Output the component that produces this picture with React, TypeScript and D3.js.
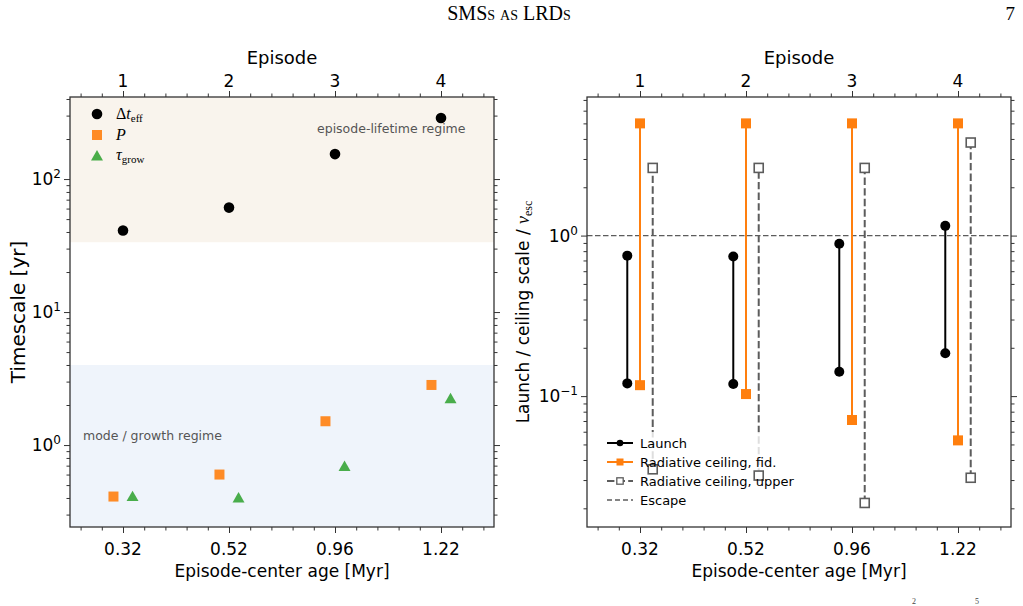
import React, { useEffect, useRef } from "react";
import * as d3 from "d3";

// episode index labels (top axis) and episode-centre ages (bottom axis)
const episodes = ["1", "2", "3", "4"];
const ageLabels = ["0.32", "0.52", "0.96", "1.22"];

// left panel: timescales in yr
const dtEff = [41, 61, 154, 288];
const periodP = [0.41, 0.6, 1.51, 2.83];
const tauGrow = [0.41, 0.4, 0.69, 2.23];
const lifetimeFloor = 33.5;
const modeCeiling = 4.0;

// right panel: launch range and radiative ceilings, in units of v_esc
const launchLo = [0.12, 0.119, 0.142, 0.185];
const launchHi = [0.75, 0.74, 0.89, 1.15];
const fidLo = [0.117, 0.103, 0.071, 0.053];
const fidHi = [5.0, 5.0, 5.0, 5.0];
const upperLo = [0.035, 0.032, 0.0216, 0.031];
const upperHi = [2.64, 2.64, 2.64, 3.8];
const escapeLevel = 1;

const W = 1023;
const H = 606;
const PANEL_W = 424;
const TOP = 97;
const BOTTOM = 527;
const LEFT_X = 70;
const RIGHT_X = 587;

const AXIS = "#333333";
const ORANGE = "#ff7f0e";
const GREEN = "#2ca02c";
const GREY = "#5c5c5c";
const SANS = "'DejaVu Sans', sans-serif";
const SERIF = "'Liberation Serif', 'DejaVu Serif', serif";

type Sel = d3.Selection<SVGGElement, unknown, null, undefined>;

function powLabel(g: Sel, x: number, y: number, exp: string) {
  const t = g
    .append("text")
    .attr("x", x)
    .attr("y", y + 6)
    .attr("text-anchor", "end")
    .attr("font-family", SANS)
    .attr("font-size", 17)
    .attr("fill", "#000");
  t.append("tspan").text("10");
  t.append("tspan").attr("dy", -7).attr("font-size", 12).text(exp);
}

function addAxes(
  g: Sel,
  x: d3.ScaleLinear<number, number>,
  y: d3.ScaleLogarithmic<number, number>,
  yMajor: number[],
  yExp: string[]
) {
  const xMajor = d3.range(0, 4);
  const xMinor = d3
    .range(-4, 35, 2)
    .map((v) => v / 10)
    .filter((v) => Math.abs(v - Math.round(v)) > 1e-6);
  const [ylo, yhi] = y.domain();
  const yMinor: number[] = [];
  for (let e = Math.floor(Math.log10(ylo)); e <= Math.ceil(Math.log10(yhi)); e++) {
    for (let k = 2; k <= 9; k++) {
      const v = k * Math.pow(10, e);
      if (v >= ylo && v <= yhi) yMinor.push(v);
    }
  }
  const [x0, x1] = x.range();
  const [yb, yt] = y.range();

  const put = (axis: d3.Axis<any>, tr: string) => {
    const s = g.append("g").attr("transform", tr).call(axis);
    s.select(".domain").remove();
    s.selectAll("text").remove();
    s.selectAll("line").attr("stroke", AXIS).attr("stroke-width", 1);
  };
  const sets: [number[], number][] = [
    [xMajor, 6],
    [xMinor, 3.5],
  ];
  sets.forEach(([vals, len]) => {
    put(d3.axisBottom(x).tickValues(vals).tickSize(len), `translate(0,${yb})`);
    put(d3.axisTop(x).tickValues(vals).tickSize(len), `translate(0,${yt})`);
  });
  const ysets: [number[], number][] = [
    [yMajor, 6],
    [yMinor, 3.5],
  ];
  ysets.forEach(([vals, len]) => {
    put(d3.axisLeft(y).tickValues(vals).tickSize(len), `translate(${x0},0)`);
    put(d3.axisRight(y).tickValues(vals).tickSize(len), `translate(${x1},0)`);
  });

  g.append("rect")
    .attr("x", x0)
    .attr("y", yt)
    .attr("width", x1 - x0)
    .attr("height", yb - yt)
    .attr("fill", "none")
    .attr("stroke", AXIS)
    .attr("stroke-width", 1.3);

  const lbl = (tx: number, ty: number, s: string, size = 17) =>
    g
      .append("text")
      .attr("x", tx)
      .attr("y", ty)
      .attr("text-anchor", "middle")
      .attr("font-family", SANS)
      .attr("font-size", size)
      .attr("fill", "#000")
      .text(s);

  ageLabels.forEach((s, i) => lbl(x(i), yb + 28, s));
  episodes.forEach((s, i) => lbl(x(i), yt - 10, s));
  lbl((x0 + x1) / 2, yt - 33, "Episode", 18);
  lbl((x0 + x1) / 2, yb + 50, "Episode-center age [Myr]", 17);
  yMajor.forEach((v, i) => powLabel(g, x0 - 9, y(v), yExp[i]));
}

function drawLeft(root: Sel) {
  const g = root.append("g");
  const x = d3.scaleLinear().domain([-0.5, 3.5]).range([LEFT_X, LEFT_X + PANEL_W]);
  const y = d3.scaleLog().domain([0.242, 414]).range([BOTTOM, TOP]);
  const [ylo, yhi] = y.domain();

  g.append("rect")
    .attr("x", LEFT_X)
    .attr("y", y(yhi))
    .attr("width", PANEL_W)
    .attr("height", y(lifetimeFloor) - y(yhi))
    .attr("fill", "#f9f4ed");
  g.append("rect")
    .attr("x", LEFT_X)
    .attr("y", y(modeCeiling))
    .attr("width", PANEL_W)
    .attr("height", y(ylo) - y(modeCeiling))
    .attr("fill", "#eff4fb");

  g.append("text")
    .attr("x", 317)
    .attr("y", 133)
    .attr("font-family", SANS)
    .attr("font-size", 12.5)
    .attr("fill", "#555")
    .text("episode-lifetime regime");
  g.append("text")
    .attr("x", 83)
    .attr("y", 440)
    .attr("font-family", SANS)
    .attr("font-size", 12.5)
    .attr("fill", "#555")
    .text("mode / growth regime");

  const dx = 0.09;
  g.selectAll(".dt")
    .data(dtEff)
    .join("circle")
    .attr("cx", (_, i) => x(i))
    .attr("cy", (d) => y(d))
    .attr("r", 5.3)
    .attr("fill", "#000");
  g.selectAll(".pp")
    .data(periodP)
    .join("rect")
    .attr("x", (_, i) => x(i - dx) - 5)
    .attr("y", (d) => y(d) - 5)
    .attr("width", 10)
    .attr("height", 10)
    .attr("fill", ORANGE)
    .attr("opacity", 0.9);
  const tri = d3.symbol().type(d3.symbolTriangle).size(62);
  g.selectAll(".tg")
    .data(tauGrow)
    .join("path")
    .attr("d", tri)
    .attr("transform", (d, i) => `translate(${x(i + dx)},${y(d) + 1})`)
    .attr("fill", GREEN)
    .attr("opacity", 0.85);

  // legend
  const rows = [114, 135, 156];
  g.append("circle").attr("cx", 97).attr("cy", rows[0]).attr("r", 5.3).attr("fill", "#000");
  g.append("rect")
    .attr("x", 92)
    .attr("y", rows[1] - 5)
    .attr("width", 10)
    .attr("height", 10)
    .attr("fill", ORANGE)
    .attr("opacity", 0.9);
  g.append("path")
    .attr("d", tri)
    .attr("transform", `translate(97,${rows[2] + 1})`)
    .attr("fill", GREEN)
    .attr("opacity", 0.85);

  const t1 = g.append("text").attr("x", 116).attr("y", rows[0] + 5).attr("font-family", SERIF).attr("font-size", 16);
  t1.append("tspan").text("Δ");
  t1.append("tspan").attr("font-style", "italic").text("t");
  t1.append("tspan").attr("dy", 3).attr("font-size", 11).text("eff");
  g.append("text")
    .attr("x", 116)
    .attr("y", rows[1] + 5)
    .attr("font-family", SERIF)
    .attr("font-size", 16)
    .attr("font-style", "italic")
    .text("P");
  const t3 = g.append("text").attr("x", 116).attr("y", rows[2] + 4).attr("font-family", SERIF).attr("font-size", 16);
  t3.append("tspan").attr("font-style", "italic").text("τ");
  t3.append("tspan").attr("dy", 3).attr("font-size", 11).text("grow");

  addAxes(g, x, y, [1, 10, 100], ["0", "1", "2"]);

  g.append("text")
    .attr("transform", `translate(25,${(TOP + BOTTOM) / 2}) rotate(-90)`)
    .attr("text-anchor", "middle")
    .attr("font-family", SANS)
    .attr("font-size", 20)
    .text("Timescale [yr]");
}

function drawRight(root: Sel) {
  const g = root.append("g");
  const x = d3.scaleLinear().domain([-0.5, 3.5]).range([RIGHT_X, RIGHT_X + PANEL_W]);
  const y = d3.scaleLog().domain([0.0153, 7.3]).range([BOTTOM, TOP]);
  const dx = 0.12;

  g.append("line")
    .attr("x1", RIGHT_X)
    .attr("x2", RIGHT_X + PANEL_W)
    .attr("y1", y(escapeLevel))
    .attr("y2", y(escapeLevel))
    .attr("stroke", GREY)
    .attr("stroke-width", 1.4)
    .attr("stroke-dasharray", "5.5,2.5");

  const vline = (lo: number[], hi: number[], off: number, color: string, dash: string | null) =>
    g
      .selectAll(null)
      .data(lo)
      .join("line")
      .attr("x1", (_, i) => x(i + off))
      .attr("x2", (_, i) => x(i + off))
      .attr("y1", (d) => y(d))
      .attr("y2", (_, i) => y(hi[i]))
      .attr("stroke", color)
      .attr("stroke-width", 2)
      .attr("stroke-dasharray", dash);

  vline(launchLo, launchHi, -dx, "#000", null);
  vline(fidLo, fidHi, 0, ORANGE, null);
  vline(upperLo, upperHi, dx, GREY, "7.4,3.2");

  [launchLo, launchHi].forEach((arr) =>
    g
      .selectAll(null)
      .data(arr)
      .join("circle")
      .attr("cx", (_, i) => x(i - dx))
      .attr("cy", (d) => y(d))
      .attr("r", 5)
      .attr("fill", "#000")
  );
  [fidLo, fidHi].forEach((arr) =>
    g
      .selectAll(null)
      .data(arr)
      .join("rect")
      .attr("x", (_, i) => x(i) - 5)
      .attr("y", (d) => y(d) - 5)
      .attr("width", 10)
      .attr("height", 10)
      .attr("fill", ORANGE)
  );

  // legend sits above the upper-ceiling lines but below their markers
  const lx = 600;
  const rows = [443, 462, 481, 500];
  g.append("rect")
    .attr("x", lx)
    .attr("y", 432)
    .attr("width", 198)
    .attr("height", 79)
    .attr("rx", 3)
    .attr("fill", "#fff")
    .attr("opacity", 0.8);

  [upperLo, upperHi].forEach((arr) =>
    g
      .selectAll(null)
      .data(arr)
      .join("rect")
      .attr("x", (_, i) => x(i + dx) - 4.5)
      .attr("y", (d) => y(d) - 4.5)
      .attr("width", 9)
      .attr("height", 9)
      .attr("fill", "#fff")
      .attr("stroke", GREY)
      .attr("stroke-width", 1.6)
  );

  const hx0 = 607;
  const hx1 = 633;
  const hm = (hx0 + hx1) / 2;
  const hline = (yy: number, color: string, dash: string | null, w = 2) =>
    g
      .append("line")
      .attr("x1", hx0)
      .attr("x2", hx1)
      .attr("y1", yy)
      .attr("y2", yy)
      .attr("stroke", color)
      .attr("stroke-width", w)
      .attr("stroke-dasharray", dash);
  hline(rows[0], "#000", null);
  g.append("circle").attr("cx", hm).attr("cy", rows[0]).attr("r", 3.3).attr("fill", "#000");
  hline(rows[1], ORANGE, null);
  g.append("rect").attr("x", hm - 3.5).attr("y", rows[1] - 3.5).attr("width", 7).attr("height", 7).attr("fill", ORANGE);
  hline(rows[2], GREY, "7.4,3.2");
  g.append("rect")
    .attr("x", hm - 3.2)
    .attr("y", rows[2] - 3.2)
    .attr("width", 6.4)
    .attr("height", 6.4)
    .attr("fill", "#fff")
    .attr("stroke", GREY)
    .attr("stroke-width", 1.3);
  hline(rows[3], GREY, "5,3", 1.4);

  ["Launch", "Radiative ceiling, fid.", "Radiative ceiling, upper", "Escape"].forEach((s, i) =>
    g
      .append("text")
      .attr("x", 640)
      .attr("y", rows[i] + 4.5)
      .attr("font-family", SANS)
      .attr("font-size", 13)
      .attr("fill", "#000")
      .text(s)
  );

  addAxes(g, x, y, [0.1, 1], ["−1", "0"]);

  const t = g
    .append("text")
    .attr("transform", `translate(529,${(TOP + BOTTOM) / 2}) rotate(-90)`)
    .attr("text-anchor", "middle")
    .attr("font-family", SANS)
    .attr("font-size", 17);
  t.append("tspan").text("Launch / ceiling scale / ");
  t.append("tspan").attr("font-family", SERIF).attr("font-style", "italic").attr("font-size", 18).text("v");
  t.append("tspan").attr("font-family", SERIF).attr("font-size", 12).attr("dy", 3).text("esc");
}

export default function App() {
  const svgRef = useRef<SVGSVGElement>(null);

  useEffect(() => {
    const svg = d3.select(svgRef.current);
    svg.selectAll("*").remove();
    const root = svg.append("g") as unknown as Sel;

    // running header of the page
    root
      .append("text")
      .attr("x", 509)
      .attr("y", 20)
      .attr("text-anchor", "middle")
      .attr("font-family", SERIF)
      .attr("font-size", 20)
      .attr("font-variant", "small-caps")
      .text("SMSs as LRDs");
    root
      .append("text")
      .attr("x", 1015)
      .attr("y", 20)
      .attr("text-anchor", "end")
      .attr("font-family", SERIF)
      .attr("font-size", 19)
      .text("7");

    // superscripts peeking in from the next line of body text
    [
      [912, "2"],
      [975, "5"],
    ].forEach(([px, s]) =>
      root
        .append("text")
        .attr("x", px as number)
        .attr("y", 604)
        .attr("font-family", SERIF)
        .attr("font-size", 8)
        .attr("fill", "#444")
        .text(s as string)
    );

    drawLeft(root);
    drawRight(root);
  }, []);

  return (
    <svg
      ref={svgRef}
      width={W}
      height={H}
      style={{ position: "absolute", left: 0, top: 0, background: "#fff" }}
    />
  );
}
